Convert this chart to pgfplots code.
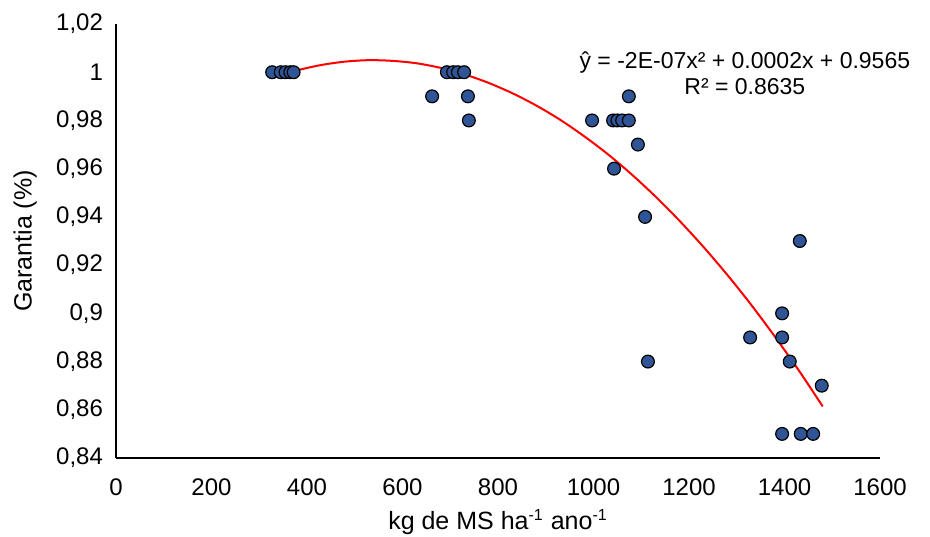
\documentclass[border=0pt]{standalone}
\usepackage{pgfplots}
\pgfplotsset{compat=1.18}
\usepackage{fontspec}
\setmainfont{Liberation Sans}
\definecolor{ptBlue}{RGB}{47,85,151}
\begin{document}
\begin{tikzpicture}
\begin{axis}[
  name=ax,
  scale only axis,
  width=382pt, height=217pt,
  xmin=0, xmax=1600, ymin=0.84, ymax=1.02,
  xtick={0,200,...,1600},
  ytick={0.84,0.86,...,1.021},
  axis lines=left,
  axis line style={-, black, line width=0.6pt},
  major tick length=0pt,
  tick label style={font=\fontsize{12}{14}\selectfont},
  /pgf/number format/assume math mode=true,
  /pgf/number format/.cd, use comma, 1000 sep={}, fixed, precision=2,
  /pgfplots/.cd,
  xticklabel style={yshift=-7pt},
  yticklabel style={xshift=-3pt},
  xlabel={kg de MS ha\textsuperscript{\fontsize{8}{9}\selectfont -1} ano\textsuperscript{\fontsize{8}{9}\selectfont -1}},
  ylabel={Garantia (\%)},
  label style={font=\fontsize{12.5}{14}\selectfont},
  xlabel style={at={(axis description cs:0.5,-0.148)}, anchor=center},
  ylabel style={at={(axis description cs:-0.119,0.5)}, anchor=center},
  clip=false,
]
\addplot[red, line width=1pt, smooth] coordinates {
(330,0.9978) (380,1.0008) (430,1.0030) (480,1.0044) (530,1.0050) (580,1.0047)
(630,1.0037) (680,1.0018) (730,0.9991) (780,0.9956) (830,0.9913) (880,0.9862)
(930,0.9803) (980,0.9735) (1030,0.9660) (1080,0.9576) (1130,0.9484) (1180,0.9384)
(1230,0.9276) (1280,0.9160) (1330,0.9036) (1380,0.8903) (1430,0.8763) (1480,0.8614)
};
\addplot[only marks, mark=*, mark size=3.2pt,
  mark options={fill=ptBlue, draw=black, line width=0.6pt}] coordinates {
(327,1.00) (345,1.00) (355,1.00) (365,1.00) (372,1.00)
(693,1.00) (706,1.00) (716,1.00) (729,1.00)
(662,0.99) (737,0.99) (739,0.98)
(997,0.98) (1041,0.98) (1050,0.98) (1060,0.98) (1074,0.98)
(1074,0.99) (1093,0.97) (1043,0.96) (1108,0.94) (1114,0.88)
(1432,0.93) (1395,0.90) (1328,0.89) (1395,0.89) (1411,0.88) (1478,0.87)
(1395,0.85) (1434,0.85) (1460,0.85)
};
\node[align=center, font=\fontsize{11.5}{13}\selectfont] at (axis cs:1317,0.9995)
  {ŷ = -2E-07x² + 0.0002x + 0.9565\\R² = 0.8635};
\end{axis}
\pgfresetboundingbox
\path ([shift={(-58pt,-39pt)}]ax.south west) rectangle ([shift={(25pt,12pt)}]ax.north east);
\end{tikzpicture}
\end{document}
